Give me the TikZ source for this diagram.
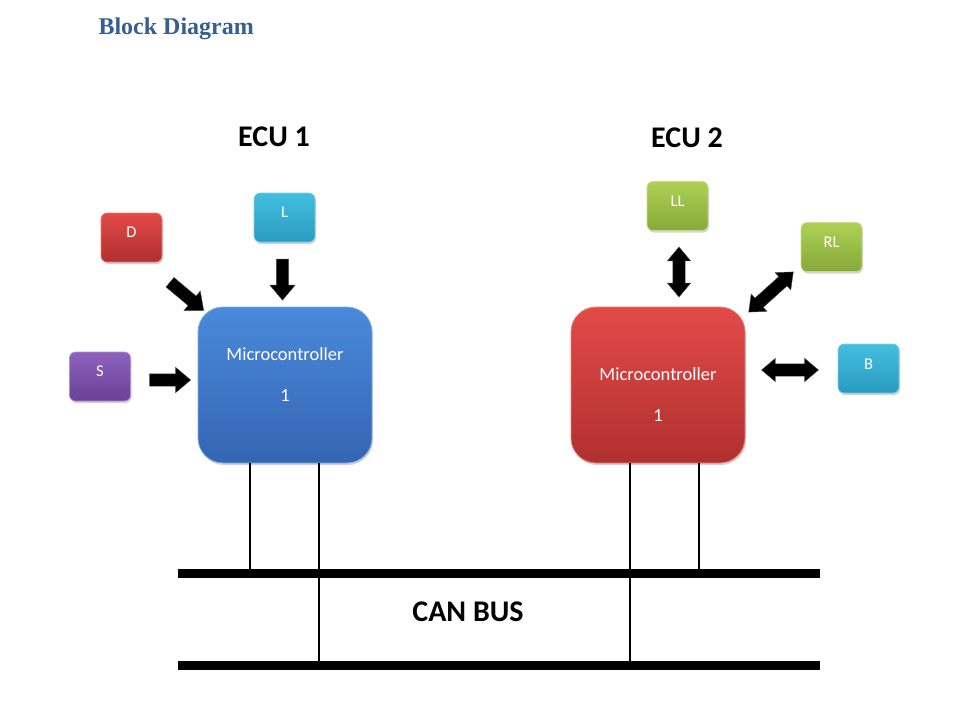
\documentclass[tikz,border=0pt]{standalone}
\usepackage{fontspec}
\setmainfont{Carlito}
\newfontfamily\titlefont{Liberation Serif}
\usetikzlibrary{shapes.arrows,shadows}
\definecolor{titleblue}{HTML}{365F91}
\definecolor{bluetop}{HTML}{4A8ADB}
\definecolor{bluebot}{HTML}{3465B2}
\definecolor{redtop}{HTML}{E24A48}
\definecolor{redbot}{HTML}{B0302F}
\definecolor{cyantop}{HTML}{43BFE0}
\definecolor{cyanbot}{HTML}{2A9AC0}
\definecolor{purptop}{HTML}{8E62BE}
\definecolor{purpbot}{HTML}{6A4196}
\definecolor{greentop}{HTML}{AED154}
\definecolor{greenbot}{HTML}{86A93A}
\tikzset{
  shade/.style={drop shadow={opacity=0.35,shadow xshift=1pt,shadow yshift=-2pt}},
  mcbox/.style={shade,rounded corners=25pt,minimum width=174pt,minimum height=156pt,inner sep=0pt},
  smallbox/.style={shade,rounded corners=6pt,minimum width=61pt,minimum height=49pt,inner sep=0pt},
  wtext/.style={text=white,font=\fontsize{16.5}{18}\selectfont},
  mctext/.style={text=white,font=\fontsize{18.5}{20}\selectfont},
  heading/.style={font=\bfseries\fontsize{30}{33}\selectfont},
  sarrow/.style={shape=single arrow,fill=black,draw=black!70,line width=0.4pt,inner xsep=0pt,inner ysep=6pt,single arrow head extend=6.5pt,single arrow tip angle=80},
  darrow/.style={shape=double arrow,fill=black,draw=black!70,line width=0.4pt,inner xsep=0pt,inner ysep=6pt,double arrow head extend=5.5pt,double arrow tip angle=80},
  bus/.style={line width=9pt},
  wire/.style={line width=2pt}
}
\begin{document}
\begin{tikzpicture}[x=1pt,y=-1pt]
\useasboundingbox[fill=white] (0,0) rectangle (972,701);
% title
\node[anchor=west,text=titleblue,font=\titlefont\bfseries\fontsize{24}{27}\selectfont] (title) at (95,29) {Block Diagram};
\node[heading] (ecu1) at (274,137) {ECU 1};
\node[heading] (ecu2) at (687,138) {ECU 2};
% ECU 1
\node[mcbox,top color=bluetop,bottom color=bluebot,draw=bluetop!70!white,line width=0.8pt] (mc1) at (285,385) {};
\node[mctext] (mc1a) at (285,354) {Microcontroller};
\node[mctext] (mc1b) at (285,396) {1};
\node[smallbox,top color=redtop,bottom color=redbot,draw=redtop!70!white,line width=0.6pt] (D) at (131.5,237.5) {};
\node[wtext] (Dt) at (131.5,232) {D};
\node[smallbox,top color=cyantop,bottom color=cyanbot,draw=cyantop!70!white,line width=0.6pt] (L) at (284.5,217.5) {};
\node[wtext] (Lt) at (284.5,212) {L};
\node[smallbox,top color=purptop,bottom color=purpbot,draw=purptop!70!white,line width=0.6pt] (S) at (100,376.5) {};
\node[wtext] (St) at (100,371) {S};
\node[sarrow,minimum height=44pt,rotate=-40] (aD) at (184,294) {};
\node[sarrow,minimum height=41pt,rotate=-90] (aL) at (282.5,276) {};
\node[sarrow,minimum height=41pt] (aS) at (166.5,380) {};
% ECU 2
\node[mcbox,top color=redtop,bottom color=redbot,draw=redtop!70!white,line width=0.8pt] (mc2) at (658,385) {};
\node[mctext] (mc2a) at (658,374) {Microcontroller};
\node[mctext] (mc2b) at (658,416) {1};
\node[smallbox,top color=greentop,bottom color=greenbot,draw=greentop!70!white,line width=0.6pt] (LL) at (677.5,206) {};
\node[wtext] (LLt) at (677.5,201) {LL};
\node[smallbox,top color=greentop,bottom color=greenbot,draw=greentop!70!white,line width=0.6pt] (RL) at (831.5,247) {};
\node[wtext] (RLt) at (831.5,242) {RL};
\node[smallbox,top color=cyantop,bottom color=cyanbot,draw=cyantop!70!white,line width=0.6pt] (B) at (868.5,368.5) {};
\node[wtext] (Bt) at (868.5,364) {B};
\node[darrow,minimum height=50pt,rotate=90] (aLL) at (679,272) {};
\node[darrow,minimum height=60pt,rotate=42] (aRL) at (771,292) {};
\node[darrow,minimum height=57pt] (aB) at (790,370) {};
% CAN bus
\coordinate (b1l) at (178,573);
\coordinate (b1r) at (820,573);
\coordinate (b2l) at (178,665);
\coordinate (b2r) at (820,665);
\draw[bus] (b1l) -- (b1r);
\draw[bus] (b2l) -- (b2r);
\coordinate (w1) at (250,573);
\coordinate (w2) at (319,665);
\coordinate (w3) at (630,665);
\coordinate (w4) at (699,573);
\draw[wire] (mc1.south -| w1) -- (w1);
\draw[wire] (mc1.south -| w2) -- (w2);
\draw[wire] (mc2.south -| w3) -- (w3);
\draw[wire] (mc2.south -| w4) -- (w4);
\node[heading] (can) at (468,612) {CAN BUS};
\end{tikzpicture}
\end{document}
